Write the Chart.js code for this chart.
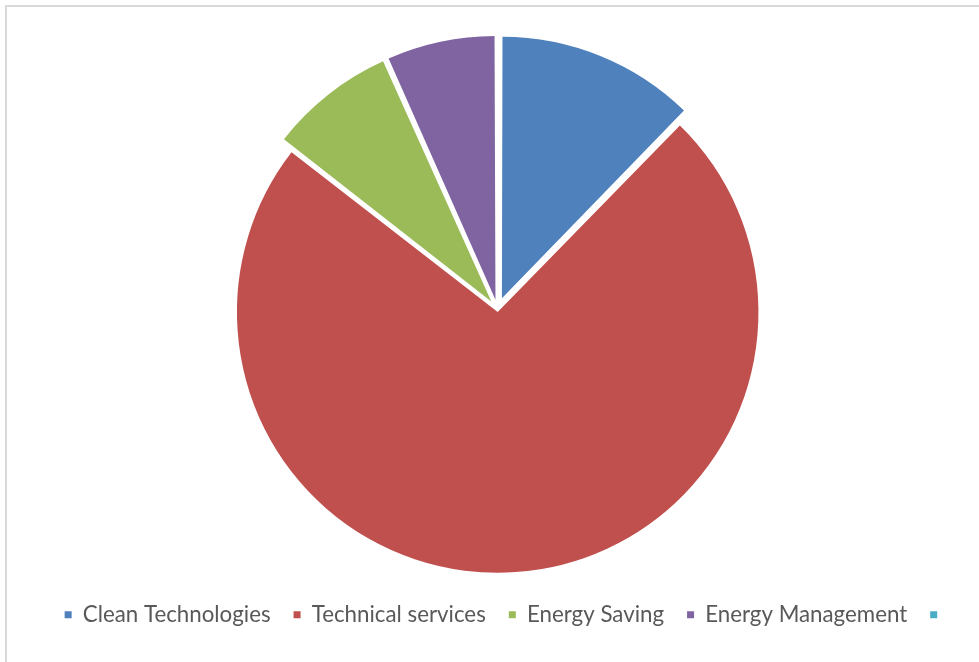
<!DOCTYPE html>
<html>
<head>
<meta charset="utf-8">
<script src="https://cdn.jsdelivr.net/npm/chart.js@4/dist/chart.umd.min.js"></script>
<style>
  html, body { margin: 0; padding: 0; background: #fff; overflow: hidden; }
  #frame { position: absolute; left: 5px; top: 5px; width: 1000px; height: 700px;
           border-left: 2px solid #d9d9d9; border-top: 2px solid #d9d9d9; box-sizing: border-box; }
  #wrap { position: absolute; left: 0; top: 0; width: 979px; height: 662px; }
</style>
</head>
<body>
<div id="frame"></div>
<div id="wrap"><canvas id="c"></canvas></div>
<script>
const categories = ["Clean Technologies", "Technical services", "Energy Saving", "Energy Management", ""];
const shares = [12.3, 73.3, 7.8, 6.7, 0];
const colors = ["#4F81BD", "#C0504D", "#9BBB59", "#8064A2", "#4BACC6"];
const explode = [47, 11, 40, 39, 0];

const shiftLegend = {
  id: "shiftLegend",
  afterLayout(chart) {
    if (chart.legend) { chart.legend.left += 9; chart.legend.right += 9; }
  }
};

new Chart(document.getElementById("c"), {
  type: "pie",
  data: {
    labels: categories,
    datasets: [{
      data: shares,
      backgroundColor: colors,
      borderWidth: 0,
      offset: explode,
      hoverOffset: 0
    }]
  },
  options: {
    responsive: true,
    maintainAspectRatio: false,
    animation: false,
    radius: 258,
    layout: { padding: { left: 16, right: 0, top: 37.8, bottom: 26 } },
    plugins: {
      tooltip: { enabled: false },
      legend: {
        position: "bottom",
        labels: {
          boxWidth: 7,
          boxHeight: 7,
          padding: 23,
          color: "#595959",
          font: { family: "Lato", size: 22.3 }
        }
      }
    }
  },
  plugins: [shiftLegend]
});
</script>
</body>
</html>
